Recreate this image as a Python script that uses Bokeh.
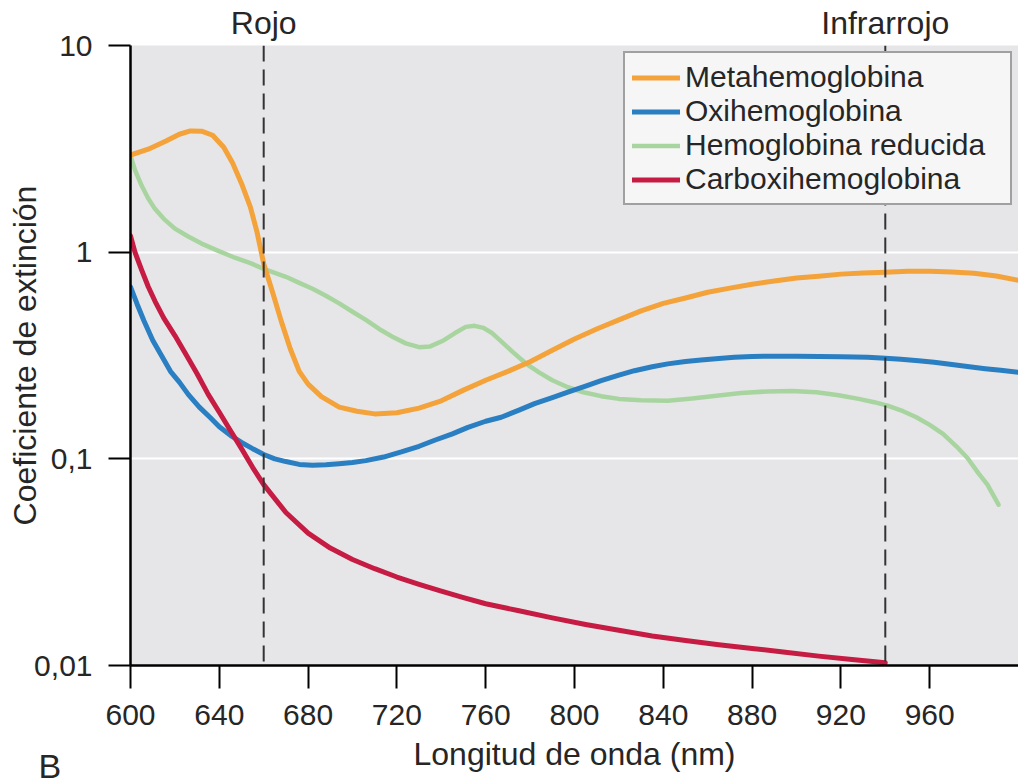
from bokeh.plotting import figure
from bokeh.models import FixedTicker, Span, Label, Legend, LegendItem, Range1d, LinearAxis
from bokeh.embed import file_html
from bokeh.resources import INLINE

# ---------------- data ----------------
wl_met = [600, 608, 616, 622, 627, 632, 637, 642, 646, 650, 654, 657, 660, 664, 668,
          672, 676, 680, 686, 694, 702, 710, 720, 730, 740, 750, 760, 770, 780, 790,
          800, 810, 820, 830, 840, 850, 860, 870, 880, 890, 900, 910, 920, 930, 940,
          950, 960, 970, 980, 990, 1000]
ext_met = [2.95, 3.15, 3.45, 3.72, 3.86, 3.85, 3.68, 3.22, 2.7, 2.15, 1.65, 1.25, 0.88,
           0.64, 0.46, 0.34, 0.265, 0.23, 0.20, 0.178, 0.17, 0.165, 0.167, 0.176, 0.191,
           0.215, 0.24, 0.265, 0.295, 0.335, 0.38, 0.425, 0.47, 0.52, 0.565, 0.60, 0.64,
           0.67, 0.70, 0.725, 0.75, 0.765, 0.783, 0.793, 0.80, 0.808, 0.808, 0.802, 0.79,
           0.767, 0.73]

wl_oxi = [600, 603, 606, 610, 614, 618, 622, 626, 631, 636, 640, 645, 650, 655, 660,
          665, 670, 676, 682, 688, 694, 700, 706, 714, 722, 730, 737, 745, 752, 760,
          767, 775, 782, 790, 797, 805, 812, 820, 827, 835, 842, 850, 857, 865, 872,
          880, 890, 900, 910, 920, 932, 940, 947, 955, 962, 970, 977, 985, 992, 1000]
ext_oxi = [0.68, 0.56, 0.467, 0.375, 0.315, 0.265, 0.235, 0.205, 0.178, 0.158, 0.143,
           0.13, 0.12, 0.112, 0.105, 0.1, 0.097, 0.094, 0.093, 0.0935, 0.0946, 0.096,
           0.098, 0.102, 0.108, 0.115, 0.123, 0.132, 0.142, 0.152, 0.159, 0.172, 0.185,
           0.198, 0.21, 0.225, 0.239, 0.254, 0.267, 0.279, 0.288, 0.296, 0.301, 0.306,
           0.31, 0.313, 0.314, 0.314, 0.313, 0.312, 0.31, 0.307, 0.303, 0.298, 0.293,
           0.286, 0.28, 0.273, 0.268, 0.262]

wl_red = [600, 602, 605, 608, 611, 615, 620, 626, 632, 639, 647, 654, 660, 665, 670,
          676, 682, 688, 694, 700, 706, 712, 718, 724, 730, 735, 741, 746, 751, 755,
          759, 763, 767, 772, 778, 784, 790, 797, 804, 812, 820, 830, 842, 853, 864,
          875, 887, 898, 909, 919, 928, 935, 941, 948, 954, 960, 966, 972, 977, 982,
          986, 991]
ext_red = [2.93, 2.5, 2.1, 1.82, 1.62, 1.45, 1.3, 1.19, 1.1, 1.02, 0.94, 0.885, 0.83,
           0.795, 0.76, 0.71, 0.665, 0.615, 0.565, 0.515, 0.47, 0.425, 0.39, 0.362,
           0.347, 0.35, 0.374, 0.405, 0.435, 0.44, 0.43, 0.405, 0.37, 0.33, 0.29, 0.262,
           0.24, 0.222, 0.21, 0.201, 0.195, 0.192, 0.191, 0.196, 0.202, 0.208, 0.212,
           0.213, 0.21, 0.203, 0.195, 0.188, 0.181, 0.17, 0.159, 0.146, 0.132, 0.115,
           0.101, 0.085, 0.075, 0.06]

wl_cox = [600, 602, 605, 608, 611, 615, 620, 625, 630, 635, 640, 645, 650, 655, 660,
          670, 680, 690, 700, 710, 720, 730, 740, 750, 760, 775, 790, 805, 820,
          835, 850, 865, 880, 895, 910, 925, 940]
ext_cox = [1.2, 1.0, 0.82, 0.68, 0.58, 0.48, 0.395, 0.32, 0.258, 0.205, 0.168, 0.137,
           0.112, 0.091, 0.075, 0.055, 0.0437, 0.037, 0.0326, 0.0294, 0.0268, 0.0247,
           0.0229, 0.0213, 0.0199, 0.0184, 0.017, 0.0158, 0.0148, 0.0139, 0.0132,
           0.0126, 0.0121, 0.0116, 0.0111, 0.0107, 0.0103]

series_names = ["Metahemoglobina", "Oxihemoglobina", "Hemoglobina reducida", "Carboxihemoglobina"]
series_colors = ["#F4A23A", "#2A7FC2", "#A8D59F", "#C61C44"]

x_ticks = [600, 640, 680, 720, 760, 800, 840, 880, 920, 960]
y_ticks = [0.01, 0.1, 1, 10]
y_tick_labels = ["0,01", "0,1", "1", "10"]

band_edges = [660, 940]
band_names = ["Rojo", "Infrarrojo"]

panel_letter = "B"
x_title = "Longitud de onda (nm)"
y_title = "Coeficiente de extinción"

FONT = "Liberation Sans"
TXT = "#262626"

# ---------------- figure ----------------
p = figure(frame_width=888, frame_height=620, y_axis_type="log",
           x_range=Range1d(600, 1000), y_range=Range1d(0.01, 10),
           output_backend="svg", toolbar_location=None,
           min_border_left=130, min_border_right=0, min_border_top=45, min_border_bottom=119)
p.background_fill_color = "#E6E6E8"
p.border_fill_color = None
p.outline_line_color = None

p.xgrid.visible = False
p.ygrid.ticker = FixedTicker(ticks=y_ticks)
p.ygrid.grid_line_color = "white"
p.ygrid.grid_line_width = 2

for ax in (p.xaxis[0], p.yaxis[0]):
    ax.axis_line_color = "black"
    ax.axis_line_width = 2.5
    ax.major_tick_line_color = "black"
    ax.major_tick_line_width = 2
    ax.major_tick_in = 0
    ax.minor_tick_line_color = None
    ax.major_label_text_font = FONT
    ax.major_label_text_font_size = "30px"
    ax.major_label_text_color = TXT
    ax.axis_label_text_font = FONT
    ax.axis_label_text_font_size = "32px"
    ax.axis_label_text_font_style = "normal"
    ax.axis_label_text_color = TXT

p.xaxis.ticker = FixedTicker(ticks=x_ticks)
p.xaxis.major_tick_out = 23
p.xaxis.major_label_standoff = 16
p.xaxis.axis_label = x_title
p.xaxis.axis_label_standoff = 8

p.yaxis.ticker = FixedTicker(ticks=y_ticks)
p.yaxis.major_label_overrides = {t: l for t, l in zip(y_ticks, y_tick_labels)}
p.yaxis.major_tick_out = 22
p.yaxis.major_label_standoff = 16
p.yaxis.axis_label = y_title
p.yaxis.axis_label_standoff = -12

# band names on a label-only axis above the frame
top_axis = LinearAxis(ticker=FixedTicker(ticks=band_edges),
                      major_label_overrides={e: n for e, n in zip(band_edges, band_names)},
                      axis_line_color=None, major_tick_line_color=None,
                      minor_tick_line_color=None, major_tick_out=0, major_tick_in=0,
                      major_label_standoff=5, major_label_text_font=FONT,
                      major_label_text_font_size="32px", major_label_text_color=TXT)
p.add_layout(top_axis, "above")

# dashed band markers
for xe in band_edges:
    p.add_layout(Span(location=xe, dimension="height", line_color="#333333",
                      line_width=2, line_dash="16 8"))

# panel letter, placed in the bottom side panel so it is not clipped by the frame
p.add_layout(Label(x=600, y=0.01, x_offset=-92, y_offset=-100, text=panel_letter,
                   text_align="left", text_baseline="alphabetic", text_font=FONT,
                   text_font_size="34px", text_color=TXT), "below")

# curves (green first so others overlay it)
data = {
    "Metahemoglobina": (wl_met, ext_met),
    "Oxihemoglobina": (wl_oxi, ext_oxi),
    "Hemoglobina reducida": (wl_red, ext_red),
    "Carboxihemoglobina": (wl_cox, ext_cox),
}
renderers = {}
draw_order = ["Hemoglobina reducida", "Metahemoglobina", "Oxihemoglobina", "Carboxihemoglobina"]
for name in draw_order:
    col = series_colors[series_names.index(name)]
    xs, ys = data[name]
    lw = 4.5 if name == "Hemoglobina reducida" else 5
    renderers[name] = p.line(xs, ys, line_color=col, line_width=lw,
                             line_cap="round", line_join="round")

legend = Legend(items=[LegendItem(label=n, renderers=[renderers[n]]) for n in series_names],
                location="top_right", margin=6, padding=7, spacing=0,
                glyph_width=48, glyph_height=33, label_height=33, label_standoff=5,
                label_width=318,
                label_text_font=FONT, label_text_font_size="30px", label_text_color=TXT,
                border_line_color="#4a4a4a", border_line_width=2,
                background_fill_color="#F6F6F6", background_fill_alpha=1)
p.add_layout(legend)

open("out.html", "w").write(file_html(p, INLINE))
